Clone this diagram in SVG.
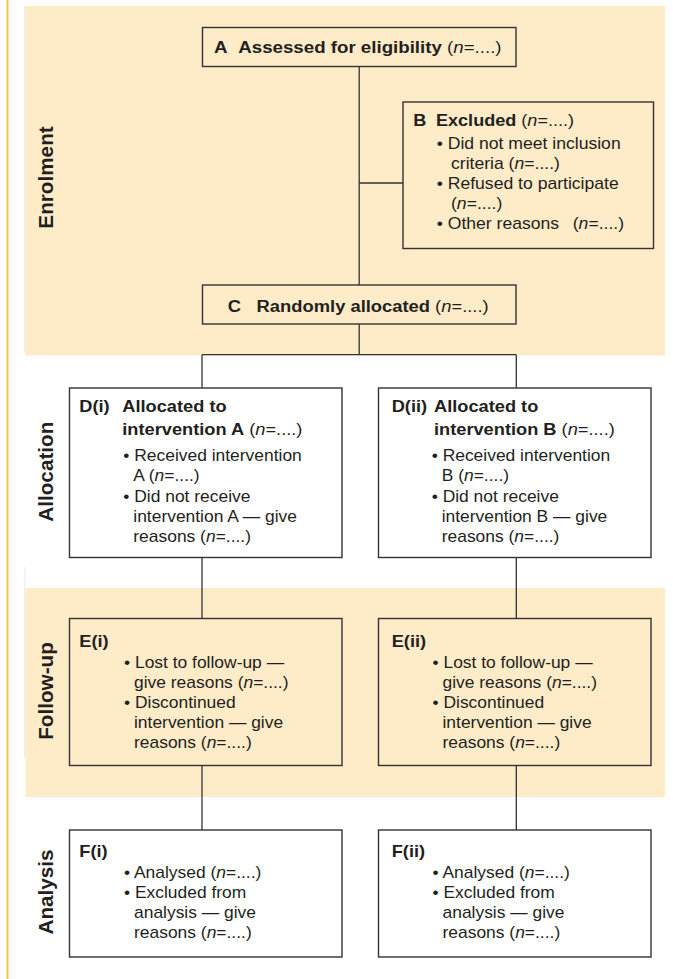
<svg xmlns="http://www.w3.org/2000/svg" width="673" height="979" viewBox="0 0 673 979">
<style>
.t{font-family:"Liberation Sans",Arial,Helvetica,sans-serif;fill:#231f20;font-size:16px}
.hb{font-weight:bold}
.big{font-size:17px}
.r{font-weight:normal}
.i{font-style:italic}
.lab{font-family:"Liberation Sans",Arial,Helvetica,sans-serif;font-weight:bold;font-size:20.7px;fill:#231f20;text-anchor:middle}
.box{stroke:#333;stroke-width:1.4}
.tan{fill:#feebc8}
.wht{fill:#fff}
#connectors line{stroke:#333;stroke-width:1.3;fill:none}
</style>
<rect x="0" y="0" width="673" height="979" fill="#fff"/>
<g id="background">
<rect x="25.5" y="6" width="639.5" height="349.5" fill="#feebc8"/>
<rect x="25.5" y="588" width="639.5" height="209" fill="#feebc8"/>
<line x1="7.5" y1="0" x2="7.5" y2="979" stroke="#f8c440" stroke-width="2"/>
<line x1="24.8" y1="6" x2="24.8" y2="352" stroke="#e2e2e2" stroke-width="0.8"/>
<line x1="24.8" y1="567" x2="24.8" y2="758" stroke="#e2e2e2" stroke-width="0.8"/>
</g>
<g id="stage-labels">
<text class="lab" transform="translate(53.3,177.5) rotate(-90)">Enrolment</text>
<text class="lab" transform="translate(53.3,471.7) rotate(-90)">Allocation</text>
<text class="lab" transform="translate(53.3,691) rotate(-90)">Follow-up</text>
<text class="lab" transform="translate(53.3,892) rotate(-90)">Analysis</text>
</g>
<g id="connectors">
<line x1="359.2" y1="66.5" x2="359.2" y2="285"/>
<line x1="359.2" y1="183" x2="403" y2="183"/>
<line x1="359.2" y1="324" x2="359.2" y2="354.7"/>
<line x1="202" y1="354.7" x2="516.3" y2="354.7"/>
<line x1="202" y1="354.7" x2="202" y2="388"/>
<line x1="516.3" y1="354.7" x2="516.3" y2="388"/>
<line x1="202" y1="557.5" x2="202" y2="618.5"/>
<line x1="516.3" y1="557.5" x2="516.3" y2="618.5"/>
<line x1="202" y1="765.5" x2="202" y2="830"/>
<line x1="516.3" y1="765.5" x2="516.3" y2="830"/>
</g>
<g id="nodeA">
<rect class="box tan" x="202.5" y="27.5" width="313.5" height="39"/>
<text class="t big hb" transform="translate(214,52.7) scale(1.1,1)">A<tspan dx="9.8">Assessed for eligibility</tspan><tspan class="r"> (<tspan class="i">n</tspan>=....)</tspan></text>
</g>
<g id="nodeB">
<rect class="box tan" x="403" y="102" width="250.5" height="146.5"/>
<text class="t hb" transform="translate(413.3,126) scale(1.13,1)">B<tspan dx="8.5">Excluded</tspan><tspan class="r"> (<tspan class="i">n</tspan>=....)</tspan></text>
<text class="t" transform="translate(436.7,149) scale(1.1,1)">• Did not meet inclusion</text>
<text class="t" transform="translate(451,169) scale(1.1,1)">criteria (<tspan class="i">n</tspan>=....)</text>
<text class="t" transform="translate(436.7,189) scale(1.1,1)">• Refused to participate</text>
<text class="t" transform="translate(451,209) scale(1.1,1)">(<tspan class="i">n</tspan>=....)</text>
<text class="t" transform="translate(436.7,229) scale(1.1,1)">• Other reasons<tspan dx="12.4">(<tspan class="i">n</tspan>=....)</tspan></text>
</g>
<g id="nodeC">
<rect class="box tan" x="202.5" y="285" width="313.5" height="39"/>
<text class="t big hb" transform="translate(227.7,312.3) scale(1.08,1)">C<tspan dx="14.5">Randomly allocated</tspan><tspan class="r"> (<tspan class="i">n</tspan>=....)</tspan></text>
</g>
<g id="nodeDi">
<rect class="box wht" x="69.5" y="388" width="272.5" height="169.5"/>
<text class="t hb" transform="translate(79.3,412.3) scale(1.14,1)">D(i)</text>
<text class="t hb" transform="translate(122.3,412.3) scale(1.14,1)">Allocated to</text>
<text class="t hb" transform="translate(122.3,435) scale(1.14,1)">intervention A<tspan class="r"> (<tspan class="i">n</tspan>=....)</tspan></text>
<text class="t" transform="translate(123.3,461) scale(1.09,1)">• Received intervention</text>
<text class="t" transform="translate(133.3,481.3) scale(1.09,1)">A (<tspan class="i">n</tspan>=....)</text>
<text class="t" transform="translate(123.3,501.6) scale(1.09,1)">• Did not receive</text>
<text class="t" transform="translate(133.3,521.7) scale(1.09,1)">intervention A — give</text>
<text class="t" transform="translate(133.3,541.8) scale(1.09,1)">reasons (<tspan class="i">n</tspan>=....)</text>
</g>
<g id="nodeDii">
<rect class="box wht" x="378.5" y="388" width="272.5" height="169.5"/>
<text class="t hb" transform="translate(391.7,412.3) scale(1.14,1)">D(ii)</text>
<text class="t hb" transform="translate(434,412.3) scale(1.14,1)">Allocated to</text>
<text class="t hb" transform="translate(434,435) scale(1.14,1)">intervention B<tspan class="r"> (<tspan class="i">n</tspan>=....)</tspan></text>
<text class="t" transform="translate(431.7,461) scale(1.09,1)">• Received intervention</text>
<text class="t" transform="translate(441.7,481.3) scale(1.09,1)">B (<tspan class="i">n</tspan>=....)</text>
<text class="t" transform="translate(431.7,501.6) scale(1.09,1)">• Did not receive</text>
<text class="t" transform="translate(441.7,521.7) scale(1.09,1)">intervention B — give</text>
<text class="t" transform="translate(441.7,541.8) scale(1.09,1)">reasons (<tspan class="i">n</tspan>=....)</text>
</g>
<g id="nodeEi">
<rect class="box tan" x="69.5" y="618.5" width="272.5" height="147"/>
<text class="t hb" transform="translate(79.3,646.7) scale(1.14,1)">E(i)</text>
<text class="t" transform="translate(124,668.3) scale(1.09,1)">• Lost to follow-up —</text>
<text class="t" transform="translate(134,687.8) scale(1.09,1)">give reasons (<tspan class="i">n</tspan>=....)</text>
<text class="t" transform="translate(124,707.7) scale(1.09,1)">• Discontinued</text>
<text class="t" transform="translate(134,727.7) scale(1.09,1)">intervention — give</text>
<text class="t" transform="translate(134,747.7) scale(1.09,1)">reasons (<tspan class="i">n</tspan>=....)</text>
</g>
<g id="nodeEii">
<rect class="box tan" x="378.5" y="618.5" width="272.5" height="147"/>
<text class="t hb" transform="translate(391.7,646.7) scale(1.14,1)">E(ii)</text>
<text class="t" transform="translate(432.5,668.3) scale(1.09,1)">• Lost to follow-up —</text>
<text class="t" transform="translate(442.5,687.8) scale(1.09,1)">give reasons (<tspan class="i">n</tspan>=....)</text>
<text class="t" transform="translate(432.5,707.7) scale(1.09,1)">• Discontinued</text>
<text class="t" transform="translate(442.5,727.7) scale(1.09,1)">intervention — give</text>
<text class="t" transform="translate(442.5,747.7) scale(1.09,1)">reasons (<tspan class="i">n</tspan>=....)</text>
</g>
<g id="nodeFi">
<rect class="box wht" x="69.5" y="830" width="272.5" height="127"/>
<text class="t hb" transform="translate(79.3,856.7) scale(1.14,1)">F(i)</text>
<text class="t" transform="translate(124,878.3) scale(1.09,1)">• Analysed (<tspan class="i">n</tspan>=....)</text>
<text class="t" transform="translate(124,898.3) scale(1.09,1)">• Excluded from</text>
<text class="t" transform="translate(134,918.3) scale(1.09,1)">analysis — give</text>
<text class="t" transform="translate(134,938.2) scale(1.09,1)">reasons (<tspan class="i">n</tspan>=....)</text>
</g>
<g id="nodeFii">
<rect class="box wht" x="378.5" y="830" width="272.5" height="127"/>
<text class="t hb" transform="translate(391.7,856.7) scale(1.14,1)">F(ii)</text>
<text class="t" transform="translate(432.5,878.3) scale(1.09,1)">• Analysed (<tspan class="i">n</tspan>=....)</text>
<text class="t" transform="translate(432.5,898.3) scale(1.09,1)">• Excluded from</text>
<text class="t" transform="translate(442.5,918.3) scale(1.09,1)">analysis — give</text>
<text class="t" transform="translate(442.5,938.2) scale(1.09,1)">reasons (<tspan class="i">n</tspan>=....)</text>
</g>
</svg>
